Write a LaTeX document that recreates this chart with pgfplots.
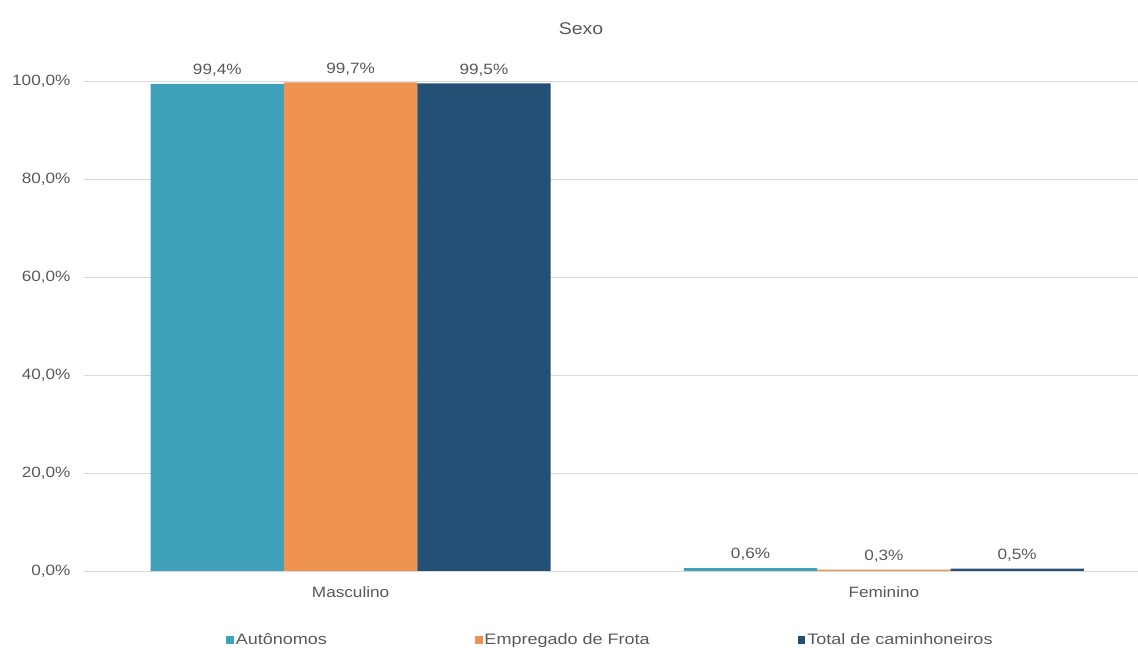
\documentclass[border=0pt]{standalone}
\usepackage{fontspec}
\setmainfont{Liberation Sans}[FakeStretch=1.15]
\newfontfamily\legfont{Liberation Sans}[FakeStretch=1.19]
\usepackage{pgfplots}
\pgfplotsset{compat=1.18}
\definecolor{cA}{HTML}{3FA1B9}
\definecolor{cB}{HTML}{EE924F}
\definecolor{cC}{HTML}{245075}
\definecolor{txt}{HTML}{595959}
\begin{document}
\begin{tikzpicture}
\useasboundingbox (0,0) rectangle (1138bp,648bp);
\begin{axis}[
  at={(84bp,77bp)}, anchor=south west,
  scale only axis, width=1054bp, height=490bp,
  xmin=-0.5, xmax=1.4766, ymin=0, ymax=100,
  xtick={0,1}, xticklabels={Masculino,Feminino},
  ytick={0,20,40,60,80,100},
  /pgf/number format/assume math mode=true,
  yticklabel={\pgfmathprintnumber[fixed,fixed zerofill,precision=1,use comma]{\tick}\%},
  axis line style={draw=none},
  major tick length=0pt,
  ymajorgrids, major grid style={color=black!15, line width=0.6bp},
  tick label style={font=\fontsize{15}{17}\selectfont, text=txt},
  yticklabel style={xshift=-10bp},
  xticklabel style={yshift=-12bp},
  ybar=0pt, bar width=0.25,
  title={Sexo},
  title style={at={(0.4715,1)}, anchor=center, yshift=46bp, font=\fontsize{17}{19}\selectfont, text=txt},
  nodes near coords={\pgfmathprintnumber[fixed,fixed zerofill,precision=1,use comma]{\pgfplotspointmeta}\%},
  nodes near coords style={font=\fontsize{15}{17}\selectfont, text=txt, inner sep=4bp, yshift=3bp},
  legend columns=3,
  legend style={at={(0.4995,0)}, anchor=center, yshift=-69bp, draw=none, fill=none,
    font=\legfont\fontsize{15.2}{17}\selectfont, text=txt,
    /tikz/every even column/.append style={column sep=146bp}},
  legend image code/.code={\fill[#1,draw=none] (0bp,-3.5bp) rectangle (7.5bp,4bp);},
]
\addplot[fill=cA, draw=none, bar shift=-0.25] coordinates {(0,99.4) (1,0.6)};
\addplot[fill=cB, draw=none, bar shift=0] coordinates {(0,99.7) (1,0.3)};
\addplot[fill=cC, draw=none, bar shift=0.25] coordinates {(0,99.5) (1,0.5)};
\legend{Autônomos,Empregado de Frota,Total de caminhoneiros}
\end{axis}
\end{tikzpicture}
\end{document}
